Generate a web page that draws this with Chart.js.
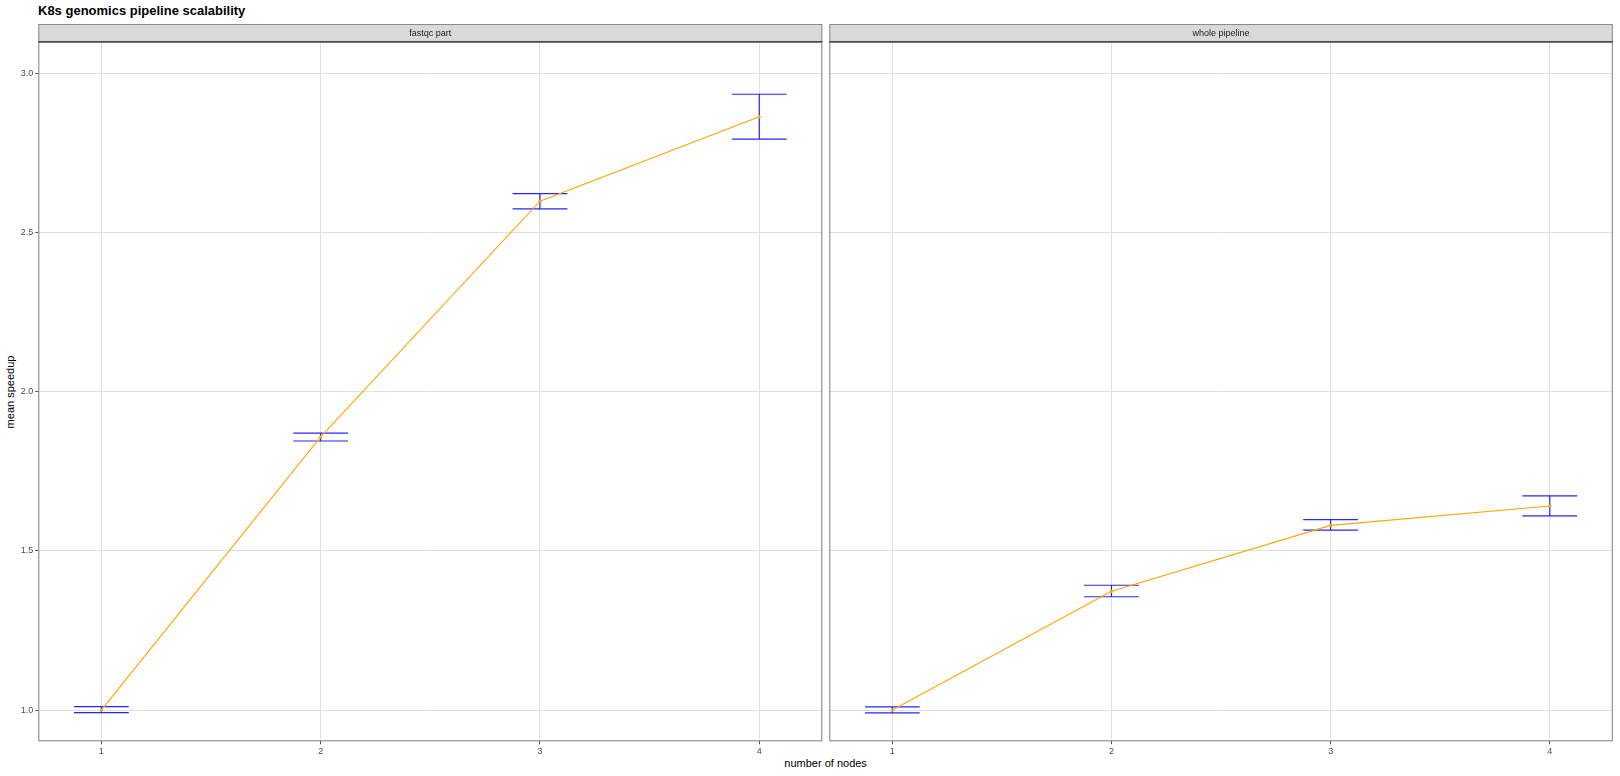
<!DOCTYPE html>
<html>
<head>
<meta charset="utf-8">
<script src="https://cdn.jsdelivr.net/npm/chart.js@4/dist/chart.umd.min.js"></script>
<style>
  html, body { margin: 0; padding: 0; background: #ffffff; }
  body { width: 1620px; height: 776px; position: relative; overflow: hidden; font-family: "Liberation Sans", Arial, sans-serif; }
  canvas { position: absolute; top: 0; }
  .txt { position: absolute; white-space: nowrap; color: #000; }
  #title { left: 38px; top: 3px; font-size: 13px; line-height: 15px; font-weight: bold; }
  #ylab { left: 10.3px; top: 391.5px; font-size: 11px; line-height: 13px; transform: translate(-50%, -50%) rotate(-90deg); }
  #xlab { left: 825.6px; top: 762.5px; font-size: 11px; line-height: 13px; transform: translate(-50%, -50%); }
</style>
</head>
<body>
<div id="title" class="txt">K8s genomics pipeline scalability</div>
<div id="ylab" class="txt">mean speedup</div>
<div id="xlab" class="txt">number of nodes</div>
<canvas id="c1" width="826" height="776" style="left:0px;width:826px;height:776px"></canvas>
<canvas id="c2" width="794" height="776" style="left:826px;width:794px;height:776px"></canvas>
<script>
// ---- data ----
const facets = ["fastqc part", "whole pipeline"];
const nodes = [1, 2, 3, 4];
const fastqcMean  = [1.000, 1.858, 2.598, 2.863];
const fastqcLower = [0.992, 1.845, 2.574, 2.793];
const fastqcUpper = [1.011, 1.870, 2.622, 2.934];
const wholeMean   = [1.000, 1.373, 1.580, 1.641];
const wholeLower  = [0.991, 1.356, 1.565, 1.610];
const wholeUpper  = [1.010, 1.392, 1.598, 1.673];
const xTicks = [1, 2, 3, 4];
const yTicks = [1.0, 1.5, 2.0, 2.5, 3.0];
const yTickLabels = ["1.0", "1.5", "2.0", "2.5", "3.0"];

// ---- style ----
const CAP = 0.125;          // half width of error bar caps (x units)
const X_MIN = 0.7125, X_MAX = 4.2875;
const Y_MIN = 0.902, Y_MAX = 3.099;
const FONT = '"Liberation Sans", Arial, sans-serif';
Chart.defaults.font.family = FONT;

function errData(x, lo, hi) {
  const out = [];
  x.forEach((xi, i) => {
    out.push({x: xi - CAP, y: hi[i]}, {x: xi + CAP, y: hi[i]}, {x: xi + CAP, y: null});
    out.push({x: xi, y: hi[i]}, {x: xi, y: lo[i]}, {x: xi, y: null});
    out.push({x: xi - CAP, y: lo[i]}, {x: xi + CAP, y: lo[i]}, {x: xi + CAP, y: null});
  });
  return out;
}

const panelPlugin = {
  id: 'panelDeco',
  afterDraw(chart, args, opts) {
    const ctx = chart.ctx, a = chart.chartArea;
    ctx.save();
    // strip
    const sTop = 24, sBot = a.top;
    ctx.fillStyle = '#d9d9d9';
    ctx.fillRect(a.left, sTop, a.right - a.left, sBot - sTop);
    ctx.strokeStyle = '#8a8a8a';
    ctx.lineWidth = 1;
    ctx.strokeRect(a.left + 0.5, sTop + 0.5, a.right - a.left - 1, sBot - sTop);
    ctx.fillStyle = '#1a1a1a';
    ctx.font = '9px ' + FONT;
    ctx.textAlign = 'center';
    ctx.textBaseline = 'middle';
    ctx.fillText(opts.label, (a.left + a.right) / 2, (sTop + sBot) / 2 + 0.5);
    // panel border
    ctx.strokeStyle = '#7d7d7d';
    ctx.lineWidth = 1;
    ctx.strokeRect(a.left + 0.5, a.top, a.right - a.left - 1, a.bottom - a.top - 0.5);
    // strip bottom line
    ctx.strokeStyle = '#4a4a4a';
    ctx.lineWidth = 1.4;
    ctx.beginPath();
    ctx.moveTo(a.left, a.top);
    ctx.lineTo(a.right, a.top);
    ctx.stroke();
    ctx.restore();
  }
};

function makeChart(id, label, mean, lo, hi, showY, pad) {
  const ctx = document.getElementById(id);
  return new Chart(ctx, {
    type: 'scatter',
    data: {
      datasets: [
        {
          data: nodes.map((x, i) => ({x: x, y: mean[i]})),
          showLine: true,
          borderColor: '#ffa500',
          borderWidth: 1.1,
          pointRadius: 1.6,
          pointBackgroundColor: '#ffa500',
          pointBorderWidth: 0,
          pointHoverRadius: 1.6
        },
        {
          data: errData(nodes, lo, hi),
          showLine: true,
          spanGaps: false,
          borderColor: 'rgba(0,0,255,0.85)',
          borderWidth: 1.2,
          borderCapStyle: 'butt',
          pointRadius: 0,
          pointHoverRadius: 0
        }
      ]
    },
    options: {
      responsive: false,
      animation: false,
      events: [],
      layout: { padding: pad },
      plugins: {
        legend: { display: false },
        tooltip: { enabled: false },
        title: { display: false },
        panelDeco: { label: label }
      },
      scales: {
        x: {
          type: 'linear',
          min: X_MIN, max: X_MAX,
          afterBuildTicks: (s) => { s.ticks = xTicks.map(v => ({value: v})); },
          afterFit: (s) => { s.height = 776 - 741.3; },
          grid: { color: '#e0e0e0', lineWidth: 1, drawTicks: true, tickLength: 3, tickColor: '#555555' },
          border: { display: false },
          ticks: { color: '#4d4d4d', font: { size: 9 }, padding: 2, maxRotation: 0,
                   callback: (v) => String(v) }
        },
        y: {
          type: 'linear',
          min: Y_MIN, max: Y_MAX,
          afterBuildTicks: (s) => { s.ticks = yTicks.map(v => ({value: v})); },
          afterFit: (s) => { s.width = showY ? 38.3 : 0; },
          grid: { color: '#e0e0e0', lineWidth: 1, drawTicks: showY, tickLength: 3, tickColor: '#555555' },
          border: { display: false },
          ticks: { display: showY, color: '#4d4d4d', font: { size: 9 }, padding: 2,
                   callback: (v) => yTickLabels[yTicks.indexOf(v)] }
        }
      }
    },
    plugins: [panelPlugin]
  });
}

makeChart('c1', facets[0], fastqcMean, fastqcLower, fastqcUpper, true,
          { left: 0, top: 41.7, right: 3.7, bottom: 0 });
makeChart('c2', facets[1], wholeMean, wholeLower, wholeUpper, false,
          { left: 3.3, top: 41.7, right: 7.2, bottom: 0 });
</script>
</body>
</html>
